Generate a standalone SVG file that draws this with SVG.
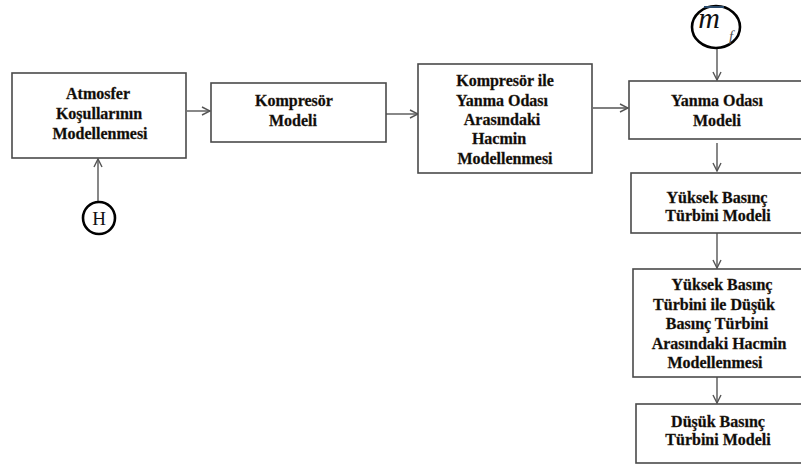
<svg xmlns="http://www.w3.org/2000/svg" width="801" height="465" viewBox="0 0 801 465">
<defs>
<style>
.box{fill:#fff;stroke:#4a4a4a;stroke-width:1.6}
.t{font-family:"Liberation Serif","Times New Roman",serif;font-weight:bold;font-size:16px;fill:#0a0a0a;stroke:#3a2a18;stroke-width:0.3;text-anchor:middle}
.c{stroke:#555;stroke-width:1.4;fill:none}
.circ{fill:#fff;stroke:#000;stroke-width:2.6}
</style>
<marker id="ah" viewBox="0 0 10 10" refX="9" refY="5" markerWidth="10" markerHeight="10" markerUnits="userSpaceOnUse" orient="auto">
<path d="M1,1 L9,5 L1,9" fill="none" stroke="#555" stroke-width="1.4"/>
</marker>
</defs>
<rect width="801" height="465" fill="#fff"/>
<g id="connectors">
<line class="c" x1="187" y1="111" x2="210" y2="111" marker-end="url(#ah)"/>
<line class="c" x1="386" y1="114" x2="418" y2="114" marker-end="url(#ah)"/>
<line class="c" x1="593" y1="108" x2="628" y2="108" marker-end="url(#ah)"/>
<line class="c" x1="98" y1="202" x2="98" y2="159" marker-end="url(#ah)"/>
<line class="c" x1="717" y1="48" x2="717" y2="80" marker-end="url(#ah)"/>
<line class="c" x1="717" y1="143" x2="717" y2="171" marker-end="url(#ah)"/>
<line class="c" x1="717" y1="233" x2="717" y2="268" marker-end="url(#ah)"/>
<line class="c" x1="717" y1="377" x2="717" y2="403" marker-end="url(#ah)"/>
</g>
<g id="atmosfer">
<rect class="box" x="12" y="73" width="174" height="85"/>
<text class="t" x="98" y="99">Atmosfer</text>
<text class="t" x="99" y="119">Koşullarının</text>
<text class="t" x="100" y="139">Modellenmesi</text>
</g>
<g id="kompresor">
<rect class="box" x="211" y="83" width="175" height="59"/>
<text class="t" x="294" y="106">Kompresör</text>
<text class="t" x="293" y="126">Modeli</text>
</g>
<g id="hacim1">
<rect class="box" x="418" y="64" width="174" height="109"/>
<text class="t" x="505" y="86">Kompresör ile</text>
<text class="t" x="502" y="106">Yanma Odası</text>
<text class="t" x="502" y="125">Arasındaki</text>
<text class="t" x="499" y="144">Hacmin</text>
<text class="t" x="505" y="164">Modellenmesi</text>
</g>
<g id="yanma">
<rect class="box" x="629" y="81" width="190" height="58"/>
<text class="t" x="717" y="106">Yanma Odası</text>
<text class="t" x="717" y="126">Modeli</text>
</g>
<g id="ybt">
<rect class="box" x="631" y="173" width="190" height="60"/>
<text class="t" x="717" y="203">Yüksek Basınç</text>
<text class="t" x="718" y="221">Türbini Modeli</text>
</g>
<g id="hacim2">
<rect class="box" x="633" y="269" width="190" height="108"/>
<text class="t" x="722" y="290">Yüksek Basınç</text>
<text class="t" x="714" y="310">Türbini ile Düşük</text>
<text class="t" x="717" y="329">Basınç Türbini</text>
<text class="t" x="719" y="349">Arasındaki Hacmin</text>
<text class="t" x="715" y="368">Modellenmesi</text>
</g>
<g id="dbt">
<rect class="box" x="636" y="404" width="190" height="59"/>
<text class="t" x="718" y="427">Düşük Basınç</text>
<text class="t" x="718" y="445">Türbini Modeli</text>
</g>
<g id="H">
<circle class="circ" cx="99" cy="218" r="16"/>
<text x="99" y="225" font-family="Liberation Serif, serif" font-size="19" text-anchor="middle" fill="#111">H</text>
</g>
<g id="mf">
<ellipse class="circ" cx="716" cy="27" rx="24" ry="21"/>
<line x1="704" y1="7" x2="724" y2="7" stroke="#2a4a6a" stroke-width="2"/>
<text x="709" y="28" font-family="Liberation Serif, serif" font-style="italic" font-size="30" text-anchor="middle" fill="#111">m</text>
<text x="731" y="41" font-family="Liberation Serif, serif" font-style="italic" font-size="15" text-anchor="middle" fill="#555">f</text>
</g>
</svg>
